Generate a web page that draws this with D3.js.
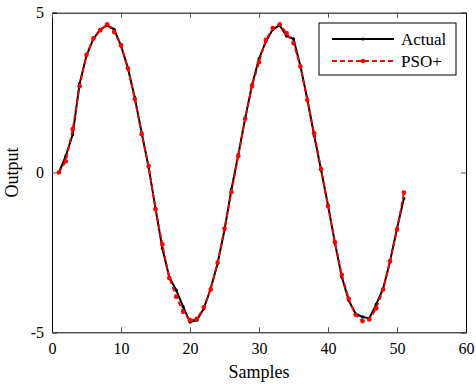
<!DOCTYPE html>
<html>
<head>
<meta charset="utf-8">
<script src="https://cdn.jsdelivr.net/npm/d3@7"></script>
<style>
  body { margin: 0; background: #fff; }
  text { font-family: "Liberation Serif", "DejaVu Serif", serif; fill: #000; }
</style>
</head>
<body>
<div id="chart"></div>
<script>
// values (samples 1..51)
var samples = d3.range(1, 52);
var actual = [0.00, 0.52, 1.19, 2.78, 3.66, 4.18, 4.48, 4.60, 4.48, 3.96,
  3.27, 2.34, 1.24, 0.17, -1.12, -2.38, -3.28, -3.68, -4.20, -4.68,
  -4.62, -4.26, -3.63, -2.85, -1.80, -0.53, 0.56, 1.70, 2.75, 3.56,
  4.10, 4.48, 4.60, 4.27, 4.18, 3.33, 2.30, 1.15, 0.08, -1.02,
  -2.20, -3.27, -4.00, -4.42, -4.52, -4.56, -4.12, -3.63, -2.77, -1.75,
  -0.81];
var pso = [0.00, 0.35, 1.36, 2.70, 3.68, 4.20, 4.45, 4.64, 4.40, 3.99,
  3.26, 2.30, 1.20, 0.20, -1.15, -2.25, -3.30, -3.89, -4.36, -4.62,
  -4.58, -4.22, -3.66, -2.82, -1.75, -0.62, 0.52, 1.68, 2.71, 3.45,
  4.15, 4.52, 4.64, 4.36, 4.05, 3.32, 2.27, 1.23, 0.10, -1.05,
  -2.18, -3.20, -3.95, -4.45, -4.65, -4.60, -4.25, -3.66, -2.78, -1.79,
  -0.63];
var xTicks = [0, 10, 20, 30, 40, 50, 60];
var yTicks = [-5, 0, 5];
var seriesNames = ["Actual", "PSO+"];

var W = 476, H = 384;
var margin = { top: 12.7, right: 10, bottom: 51.7, left: 52 },
  width = W - margin.left - margin.right,
  height = H - margin.top - margin.bottom;

var svg = d3.select("#chart")
  .append("svg")
  .attr("width", W)
  .attr("height", H)
  .append("g")
  .attr("transform", "translate(" + margin.left + "," + margin.top + ")");

var x = d3.scaleLinear().domain([0, 60]).range([0, width]);
var y = d3.scaleLinear().domain([-5, 5]).range([height, 0]);

// axes: ticks inside, mirrored on top/right
svg.append("g")
  .attr("transform", "translate(0," + height + ")")
  .call(d3.axisBottom(x).tickValues(xTicks).tickSize(-5).tickPadding(10))
  .call(g => g.selectAll("text").attr("font-size", 16));
svg.append("g")
  .call(d3.axisLeft(y).tickValues(yTicks).tickSize(-5).tickPadding(8)
    .tickFormat(d => d < 0 ? "-" + Math.abs(d) : d))
  .call(g => g.selectAll("text").attr("font-size", 16));
svg.append("g")
  .call(d3.axisTop(x).tickValues(xTicks).tickSize(-5).tickFormat(""));
svg.append("g")
  .attr("transform", "translate(" + width + ",0)")
  .call(d3.axisRight(y).tickValues(yTicks).tickSize(-5).tickFormat(""));
svg.selectAll(".domain").attr("stroke", "#000");
svg.selectAll(".tick line").attr("stroke", "#555");

// axis labels
svg.append("text")
  .attr("x", width / 2)
  .attr("y", height + 46)
  .attr("text-anchor", "middle")
  .attr("font-size", 18)
  .text("Samples");
svg.append("text")
  .attr("transform", "translate(" + (-34) + "," + (height / 2) + ") rotate(-90)")
  .attr("text-anchor", "middle")
  .attr("font-size", 18)
  .text("Output");

var line = d3.line()
  .x((d, i) => x(samples[i]))
  .y(d => y(d));

// actual series
svg.append("path")
  .datum(actual)
  .attr("fill", "none")
  .attr("stroke", "#000")
  .attr("stroke-width", 2)
  .attr("d", line);
svg.selectAll(".dotA")
  .data(actual)
  .enter().append("circle")
  .attr("cx", (d, i) => x(samples[i]))
  .attr("cy", d => y(d))
  .attr("r", 1.6)
  .attr("fill", "#000");

// PSO+ series
svg.append("path")
  .datum(pso)
  .attr("fill", "none")
  .attr("stroke", "#ff0000")
  .attr("stroke-width", 1.8)
  .attr("stroke-dasharray", "5,3")
  .attr("d", line);
svg.selectAll(".dotP")
  .data(pso)
  .enter().append("circle")
  .attr("cx", (d, i) => x(samples[i]))
  .attr("cy", d => y(d))
  .attr("r", 2.3)
  .attr("fill", "#ff0000");

// legend
var lg = svg.append("g").attr("transform", "translate(" + (319 - margin.left) + "," + (23 - margin.top) + ")");
lg.append("rect")
  .attr("width", 137)
  .attr("height", 52)
  .attr("fill", "#fff")
  .attr("stroke", "#000")
  .attr("stroke-width", 1);
var styles = [
  { color: "#000", dash: null, w: 2, r: 1.6 },
  { color: "#ff0000", dash: "5,3", w: 1.8, r: 2.3 }
];
seriesNames.forEach((name, i) => {
  var yy = 16 + i * 22;
  lg.append("line")
    .attr("x1", 13).attr("x2", 75)
    .attr("y1", yy).attr("y2", yy)
    .attr("stroke", styles[i].color)
    .attr("stroke-width", styles[i].w)
    .attr("stroke-dasharray", styles[i].dash);
  lg.append("circle")
    .attr("cx", 44).attr("cy", yy)
    .attr("r", styles[i].r)
    .attr("fill", styles[i].color);
  lg.append("text")
    .attr("x", 82)
    .attr("y", yy)
    .attr("dy", "0.35em")
    .attr("font-size", 17)
    .text(name);
});
</script>
</body>
</html>
